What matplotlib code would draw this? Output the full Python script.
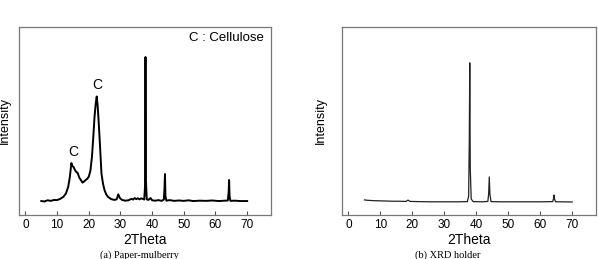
import matplotlib.pyplot as plt

# (a) paper-mulberry pattern
mulberry_2theta = [
    5.0, 6.0, 7.0, 8.0, 9.0, 10.0, 11.0, 12.0, 12.8, 13.5, 14.0, 14.5, 14.8, 15.2, 15.6,
    16.0, 16.5, 17.0, 17.5, 18.0, 18.5, 19.0, 19.5, 20.0, 20.5, 21.0, 21.4, 21.8, 22.2,
    22.5, 22.8, 23.1, 23.5, 24.0, 24.5, 25.0, 25.5, 26.0, 27.0, 28.0, 28.8, 29.3, 29.8,
    30.5, 31.5, 32.5, 33.5, 34.0, 34.5, 35.0, 35.5, 36.0, 36.5, 37.0, 37.5, 37.75, 37.9,
    38.05, 38.3, 38.8, 39.5, 40.0, 41.0, 42.0, 43.0, 43.7, 43.9, 44.05, 44.2, 44.5, 45.5,
    47.0, 48.5, 50.0, 51.5, 53.0, 55.0, 57.0, 59.0, 61.0, 63.0, 63.9, 64.15, 64.3, 64.45,
    64.7, 66.0, 68.0, 70.0,
]
mulberry_int = [
    7.4, 7.2, 7.8, 7.5, 8.0, 7.9, 8.6, 9.7, 11.5, 15.0, 20.0, 27.6, 26.0, 25.5, 24.0,
    23.0, 22.3, 19.8, 18.6, 17.2, 17.8, 18.6, 19.2, 20.4, 23.5, 31.0, 41.0, 52.0, 59.5,
    63.0, 58.0, 50.0, 38.0, 22.0, 16.5, 13.0, 11.0, 9.7, 8.5, 8.0, 8.3, 11.0, 9.0,
    8.0, 7.6, 7.8, 8.6, 8.2, 9.0, 8.4, 8.9, 8.3, 8.8, 8.6, 8.2, 15.0, 84.0,
    18.0, 8.3, 8.0, 9.0, 7.8, 7.6, 7.9, 7.5, 8.2, 14.0, 21.8, 10.0, 7.6, 7.9,
    7.5, 7.7, 7.5, 7.8, 7.4, 7.6, 7.5, 7.7, 7.4, 7.6, 7.7, 12.0, 18.6, 10.0,
    7.5, 7.6, 7.4, 7.4,
]

# (b) empty XRD holder
holder_2theta = [
    5.0, 6.0, 8.0, 10.0, 12.0, 14.0, 16.0, 18.0, 18.6, 19.3, 22.0, 26.0, 30.0, 34.0,
    37.2, 37.6, 37.8, 37.95, 38.1, 38.4, 39.0, 42.0, 43.6, 43.85, 44.05, 44.25, 44.6,
    48.0, 54.0, 60.0, 63.9, 64.15, 64.3, 64.45, 64.8, 67.0, 70.0,
]
holder_int = [
    8.0, 7.8, 7.6, 7.5, 7.4, 7.3, 7.3, 7.2, 7.9, 7.2, 7.1, 7.0, 7.0, 7.0,
    7.1, 10.0, 40.0, 80.9, 25.0, 8.5, 7.1, 7.0, 7.2, 11.0, 20.2, 11.0, 7.1,
    7.0, 7.0, 7.0, 7.1, 8.8, 10.6, 8.5, 7.0, 7.0, 6.9,
]

ticks = [0, 10, 20, 30, 40, 50, 60, 70]
sans = 'Liberation Sans'
serif = 'Liberation Serif'

fig = plt.figure(figsize=(5.98, 2.59), dpi=100)
ax1 = fig.add_axes([0.032, 0.17, 0.421, 0.726])
ax2 = fig.add_axes([0.572, 0.17, 0.425, 0.726])

ax1.plot(mulberry_2theta, mulberry_int, color='black', lw=1.4)
ax2.plot(holder_2theta, holder_int, color='#222222', lw=0.9)

for ax in (ax1, ax2):
    ax.set_xlim(-2, 77.5)
    ax.set_ylim(0, 100)
    ax.set_yticks([])
    ax.set_xticks(ticks)
    ax.tick_params(axis='x', direction='in', length=3, width=0.8, color='#555555',
                   labelsize=8.5, pad=3)
    for lbl in ax.get_xticklabels():
        lbl.set_family(sans)
    for s in ax.spines.values():
        s.set_color('#777777')
        s.set_linewidth(0.9)
    ax.set_xlabel('2Theta', family=sans, fontsize=10, labelpad=1)

# left label sits right at the figure edge, as in the reference
ax1.set_ylabel('Intensity', family=sans, fontsize=9)
ax1.yaxis.set_label_coords(-0.034, 0.5)
ax2.set_ylabel('Intensity', family=sans, fontsize=9)
ax2.yaxis.set_label_coords(-0.06, 0.5)

ax1.text(75.3, 94, 'C : Cellulose', family=sans, fontsize=9.5, ha='right', va='center')
ax1.text(22.7, 69, 'C', family=sans, fontsize=10, ha='center', va='center')
ax1.text(15.2, 33.7, 'C', family=sans, fontsize=10, ha='center', va='center')

fig.text(0.234, 0.015, '(a) Paper-mulberry', family=serif, fontsize=7.5, ha='center', va='center')
fig.text(0.748, 0.015, '(b) XRD holder', family=serif, fontsize=7.5, ha='center', va='center')

fig.savefig('out.png', dpi=100)
